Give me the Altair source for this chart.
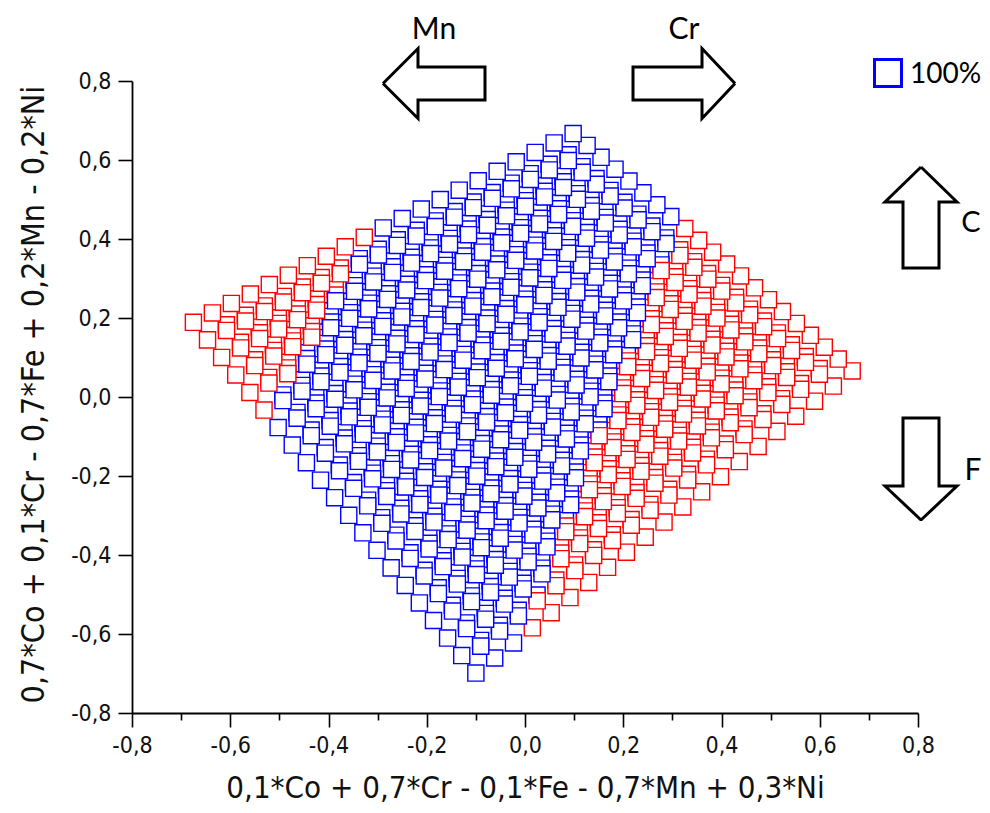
import altair as alt
import pandas as pd

# ---- data ----
# pure-element corners of the diamond (position of 100% of one element)
elements = ["Co", "Cr", "Fe", "Mn"]
corner_x = [0.098, 0.666, -0.100, -0.675]
corner_y = [0.667, 0.066, -0.699, 0.189]
step_pct = 5  # composition grid step in %

# red / blue boundaries (two points per boundary line)
left_boundary_x = [-0.312, -0.519]
left_boundary_y = [0.408, -0.043]
right_boundary_x = [0.310, -0.004]
right_boundary_y = [0.444, -0.603]

x_ticks = [-0.8, -0.7, -0.6, -0.5, -0.4, -0.3, -0.2, -0.1, 0.0, 0.1, 0.2, 0.3, 0.4, 0.5, 0.6, 0.7, 0.8]
y_ticks = x_ticks

# ---- build table (compositions on the grid, drawn high-Cr first) ----
rows = []
for cr in range(100, -1, -step_pct):
    for co in range(0, 101 - cr, step_pct):
        for fe in range(0, 101 - co - cr, step_pct):
            mn = 100 - co - cr - fe
            comp = [co, cr, fe, mn]
            x = sum(c * v for c, v in zip(comp, corner_x)) / 100.0
            y = sum(c * v for c, v in zip(comp, corner_y)) / 100.0
            rows.append((x, y))


def side(px, py, ax, ay, bx, by):
    return (bx - ax) * (py - ay) - (by - ay) * (px - ax)


mn_side = side(corner_x[3], corner_y[3], left_boundary_x[0], left_boundary_y[0], left_boundary_x[1], left_boundary_y[1])
cr_side = side(corner_x[1], corner_y[1], right_boundary_x[0], right_boundary_y[0], right_boundary_x[1], right_boundary_y[1])

recs = []
for k, (x, y) in enumerate(rows):
    s1 = side(x, y, left_boundary_x[0], left_boundary_y[0], left_boundary_x[1], left_boundary_y[1])
    s2 = side(x, y, right_boundary_x[0], right_boundary_y[0], right_boundary_x[1], right_boundary_y[1])
    red = (s1 * mn_side > 0) or (s2 * cr_side > 0)
    recs.append({"k": k, "x": x, "y": y, "phase": "other" if red else "100%"})
df = pd.DataFrame(recs)

# ---- layout constants ----
W, H = 786, 632
LEFT, TOP = 124, 73  # padding so plot origin lands at (132, 81) on page
X0, Y0 = 132, 81


def px2x(px):
    return -0.8 + (px - X0) / W * 1.6


def py2y(py):
    return 0.8 - (py - Y0) / H * 1.6


xscale = alt.Scale(domain=[-0.8, 0.8], nice=False, zero=False)
yscale = alt.Scale(domain=[-0.8, 0.8], nice=False, zero=False)

tick_font = "Liberation Sans Narrow, DejaVu Sans Condensed, Liberation Sans, Arial"
label_expr = ("abs(round(datum.value*10)) % 2 == 0 ? (datum.value < -0.001 ? '-' : '') + "
              "replace(format(abs(datum.value), '.1f'), '.', ',') : ''")
tick_size = {"condition": {"test": "abs(round(datum.value*10)) % 2 == 0", "value": 14}, "value": 7}

common = dict(
    grid=False, domainColor="black", domainWidth=1.8, tickColor="black", tickWidth=1.6,
    tickSize=tick_size, labelExpr=label_expr, labelFont=tick_font, labelFontSize=23,
    labelColor="#111111", labelFlush=False, labelOverlap=False, labelPadding=7,
    titleFont=tick_font, titleFontWeight="normal", titleColor="#111111",
)

x_axis = alt.Axis(values=x_ticks, title="0,1*Co + 0,7*Cr - 0,1*Fe - 0,7*Mn + 0,3*Ni",
                  titleX=W / 2, titleY=84, titleBaseline="alphabetic", titleFontSize=31, **common)
y_axis = alt.Axis(values=y_ticks, title="0,7*Co + 0,1*Cr - 0,7*Fe + 0,2*Mn - 0,2*Ni",
                  titleX=-99, titleY=313, titleBaseline="middle", titleAngle=-90, titleFontSize=32, **common)

points = alt.Chart(df).mark_point(
    shape="square", filled=True, fill="white", size=260, strokeWidth=1.4, opacity=1
).encode(
    x=alt.X("x:Q", scale=xscale, axis=x_axis),
    y=alt.Y("y:Q", scale=yscale, axis=y_axis),
    stroke=alt.Stroke("phase:N", scale=alt.Scale(domain=["100%", "other"], range=["#0000ff", "#ff0000"]), legend=None),
    order=alt.Order("k:Q"),
)

# ---- annotation arrows (page pixel outlines) ----
arrow_shapes = {
    "Mn": [(383, 83.5), (418, 48.5), (418, 67), (485, 67), (485, 100), (418, 100), (418, 118.5), (383, 83.5)],
    "Cr": [(735, 83.5), (702, 48.5), (702, 67), (633, 67), (633, 100), (702, 100), (702, 118.5), (735, 83.5)],
    "Co": [(921, 167), (885, 202), (903, 202), (903, 268), (939, 268), (939, 202), (957, 202), (921, 167)],
    "Fe": [(921, 520), (885, 486), (903, 486), (903, 418), (939, 418), (939, 486), (957, 486), (921, 520)],
}
arr_recs = []
for name, pts in arrow_shapes.items():
    for i, (px, py) in enumerate(pts):
        arr_recs.append({"a": name, "i": i, "x": px2x(px), "y": py2y(py)})
arrows = alt.Chart(pd.DataFrame(arr_recs)).mark_line(
    color="black", strokeWidth=3, strokeJoin="miter", clip=False
).encode(
    x=alt.X("x:Q", scale=xscale), y=alt.Y("y:Q", scale=yscale),
    detail="a:N", order="i:Q",
)

labels = pd.DataFrame([
    {"t": "Mn", "x": px2x(434), "y": py2y(39), "s": 30},
    {"t": "Cr", "x": px2x(684), "y": py2y(39), "s": 30},
    {"t": "C", "x": px2x(971), "y": py2y(232), "s": 29},
    {"t": "F", "x": px2x(973), "y": py2y(480), "s": 30},
])
label_text = alt.Chart(labels).mark_text(
    font="Lato", color="black", align="center", baseline="alphabetic", clip=False
).encode(x=alt.X("x:Q", scale=xscale), y=alt.Y("y:Q", scale=yscale), text="t:N",
         size=alt.Size("s:Q", scale=None, legend=None))

legend_sym = alt.Chart(pd.DataFrame([{"x": px2x(888), "y": py2y(73)}])).mark_point(
    shape="square", filled=True, fill="white", stroke="#0000ff", size=729, strokeWidth=3, opacity=1, clip=False
).encode(x=alt.X("x:Q", scale=xscale), y=alt.Y("y:Q", scale=yscale))
legend_txt = alt.Chart(pd.DataFrame([{"x": px2x(910), "y": py2y(83), "t": "100%"}])).mark_text(
    font="Lato", fontSize=28, color="black", align="left", baseline="alphabetic", clip=False
).encode(x=alt.X("x:Q", scale=xscale), y=alt.Y("y:Q", scale=yscale), text="t:N")

chart = alt.layer(points, arrows, label_text, legend_sym, legend_txt).properties(
    width=W, height=H,
    autosize=alt.AutoSizeParams(type="none"),
    padding={"left": LEFT, "top": TOP, "right": 64, "bottom": 92},
).configure_view(stroke=None)

chart.save("out.html", embed_options={"renderer": "svg", "actions": False})
